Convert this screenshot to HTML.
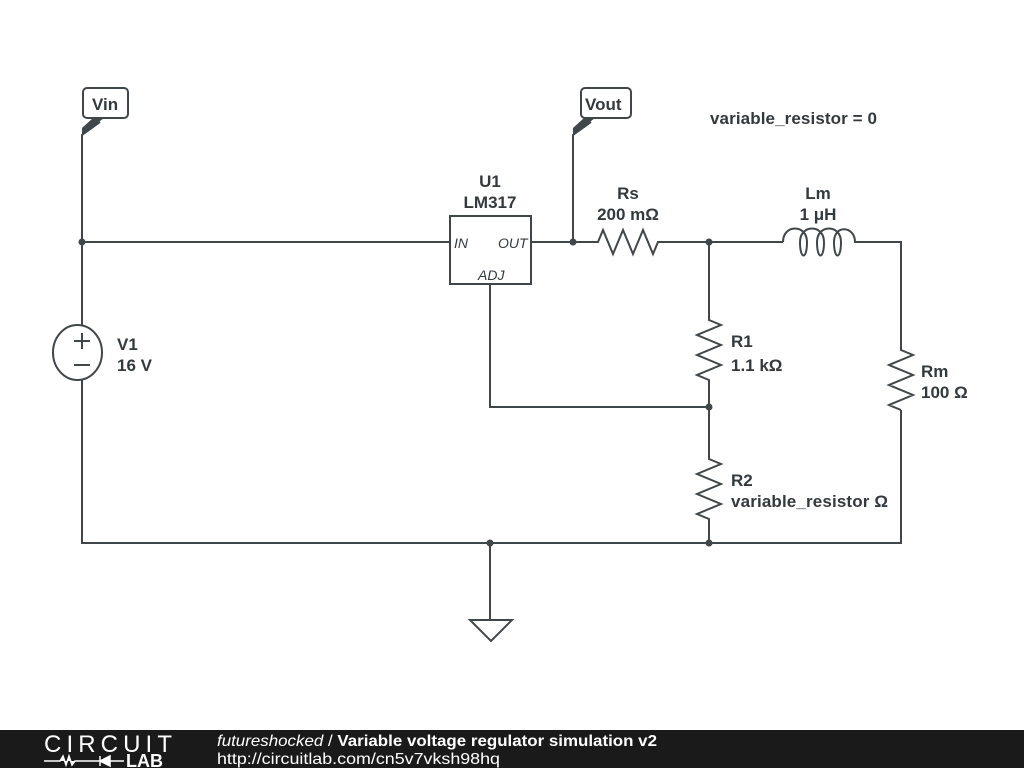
<!DOCTYPE html>
<html><head><meta charset="utf-8"><style>
html,body{margin:0;padding:0;background:#fff;width:1024px;height:768px;overflow:hidden}
svg text{font-family:"Liberation Sans",sans-serif;fill:#333a3e}
</style></head><body>
<svg width="1024" height="768" viewBox="0 0 1024 768" xmlns="http://www.w3.org/2000/svg">
<g fill="none" stroke="#40474b" stroke-width="2">
<path d="M82,242 V135 L100,122"/>
<path d="M82,325 V242 H450"/>
<ellipse cx="77.5" cy="352.5" rx="24.5" ry="27.5"/>
<path d="M82,380 V543 H901 V410"/>
<path d="M70,341 H86 M78,333 V349 M70,365 H86" transform="translate(4,0)"/>
<rect x="450" y="216" width="81" height="68"/>
<path d="M531,242 H598 L603,230 L613,254 L623,230 L633,254 L643,230 L653,254 L658,242 H783"/>
<path d="M573,242 V135 L591,122"/>
<path d="M783,242 C783,224 807,224 807,242 C807,260 800,260 800,242 C800,224 824,224 824,242 C824,260 817,260 817,242 C817,224 841,224 841,242 C841,260 834,260 834,242 C834,224 855,226 855,242 H901 V350 L913,355 L889,365 L913,375 L889,385 L913,395 L889,405 L901,410"/>
<path d="M709,242 V320 L721,325 L697,335 L721,345 L697,355 L721,365 L697,375 L709,380 V459 L721,464 L697,474 L721,484 L697,494 L721,504 L697,514 L709,519 V543"/>
<path d="M490,284 V407 H709"/>
<path d="M490,543 V620 M470,620 H512 L491,641 Z"/>
<rect x="83" y="88" width="45" height="30" rx="4"/>
<rect x="581" y="88" width="50" height="30" rx="4"/>
</g>
<g fill="#40474b">
<path d="M82,135 L82,128 L93,118 L104,118 Z"/>
<path d="M573,135 L573,128 L584,118 L595,118 Z"/>
<circle cx="82" cy="242" r="3.5"/><circle cx="573" cy="242" r="3.5"/>
<circle cx="709" cy="242" r="3.5"/><circle cx="709" cy="407" r="3.5"/>
<circle cx="709" cy="543" r="3.5"/><circle cx="490" cy="543" r="3.5"/>
</g>
<g font-size="17" font-weight="bold">
<text x="92" y="110">Vin</text>
<text x="585" y="110">Vout</text>
<text x="710" y="124" textLength="167">variable_resistor = 0</text>
<text x="490" y="187" text-anchor="middle">U1</text>
<text x="490" y="208" text-anchor="middle">LM317</text>
<text x="628" y="199" text-anchor="middle">Rs</text>
<text x="628" y="220" text-anchor="middle">200 mΩ</text>
<text x="818" y="199" text-anchor="middle">Lm</text>
<text x="818" y="220" text-anchor="middle">1 μH</text>
<text x="117" y="350">V1</text>
<text x="117" y="371">16 V</text>
<text x="731" y="347">R1</text>
<text x="731" y="371">1.1 kΩ</text>
<text x="921" y="377">Rm</text>
<text x="921" y="398">100 Ω</text>
<text x="731" y="486">R2</text>
<text x="731" y="507" textLength="157">variable_resistor Ω</text>
</g>
<g font-size="14" font-style="italic">
<text x="454" y="248">IN</text>
<text x="498" y="248">OUT</text>
<text x="478" y="280">ADJ</text>
</g>
<rect x="0" y="730" width="1024" height="38" fill="#1a1a1a"/>
<text x="44" y="752" font-size="24" style="fill:#fff;font-weight:200" textLength="128">CIRCUIT</text>
<path d="M44,761 H60 L63,756 L66,765 L69,756 L72,765 L75,761 H100 M100,756 V766 M100,761 L110,756 V766 Z M110,756 V766 M110,761 H124" stroke="#fff" stroke-width="1.5" fill="#fff"/>
<text x="126" y="767" font-size="18" font-weight="bold" style="fill:#fff">LAB</text>
<text x="217" y="746" font-size="16" style="fill:#fff" textLength="440" lengthAdjust="spacingAndGlyphs"><tspan font-style="italic">futureshocked</tspan> / <tspan font-weight="bold">Variable voltage regulator simulation v2</tspan></text>
<text x="217" y="764" font-size="16" style="fill:#fff" textLength="283" lengthAdjust="spacingAndGlyphs">http://circuitlab.com/cn5v7vksh98hq</text>
</svg>
</body></html>
